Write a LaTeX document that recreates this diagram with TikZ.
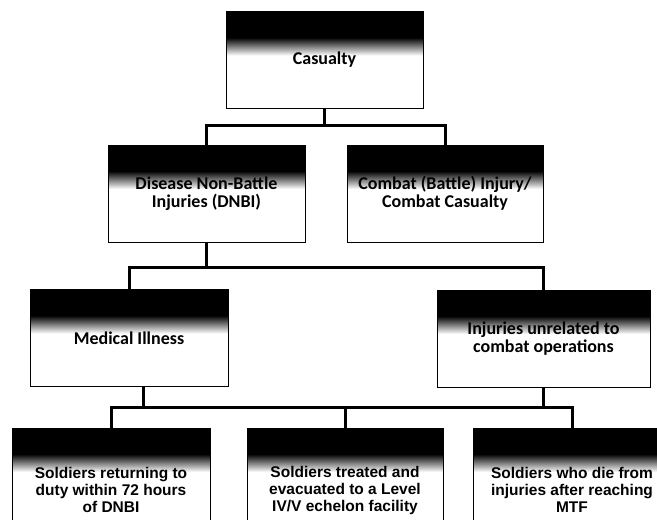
\documentclass[tikz,border=0pt]{standalone}
\usepackage{fontspec}
\setmainfont{Carlito}
\newfontfamily\arialfont{Liberation Sans}

\tikzset{
  casbox/.style={draw, line width=.8pt, minimum width=197pt, minimum height=97pt,
    inner sep=0pt, align=center, font=\bfseries\fontsize{18}{18}\selectfont,
    path picture={
      \fill[black] (path picture bounding box.north west) rectangle ([yshift=-26pt]path picture bounding box.north east);
      \shade[top color=black, bottom color=white] ([yshift=-26pt]path picture bounding box.north west) rectangle ([yshift=-44pt]path picture bounding box.north east);
    }},
  solbox/.style={casbox, minimum height=124pt, font=\arialfont\bfseries\fontsize{15.5}{17}\selectfont},
  link/.style={line width=3pt}
}

\begin{document}
\begin{tikzpicture}[x=1pt,y=-1pt]
\useasboundingbox (0,0) rectangle (657,520);
\clip (0,0) rectangle (657,520);

\node[casbox] (cas) at (324.5,60) {Casualty};
\node[casbox] (dnbi) at (206.5,193.5) {Disease Non-Battle\\Injuries (DNBI)};
\node[casbox, minimum width=196pt] (cbt) at (445,193.5) {Combat (Battle) Injury/\\Combat Casualty};
\node[casbox, minimum width=198pt] (med) at (129,338) {Medical Illness};
\node[casbox, minimum width=213pt] (inj) at (543.5,338.5) {Injuries unrelated to\\combat operations};
\node[solbox, minimum width=198pt] (sol1) at (111,490) {Soldiers returning to\\duty within 72 hours\\of DNBI};
\node[solbox, minimum width=196pt] (sol2) at (345,490) {Soldiers treated and\\evacuated to a Level\\IV/V echelon facility};
\node[solbox, minimum width=198pt] (sol3) at (572,490) {Soldiers who die from\\injuries after reaching\\MTF};

%\draw[help lines] (0,0) grid[step=50] (657,520);
\draw[link] (cas.south) -- ++(0,17) coordinate (cj);
\draw[link] (dnbi.north) |- (cj) -| (cbt.north);

\draw[link] (dnbi.south) -- ++(0,25) coordinate (dj);
\draw[link] (med.north) |- (dj) -| (inj.north);

\coordinate (mo) at ([xshift=14pt]med.south);
\draw[link] (mo) -- ++(0,21) coordinate (mj);
\draw[link] (inj.south) |- (mj);
\draw[link] (sol1.north) |- (mj) -| (sol3.north);
\draw[link] (sol2.north) -- (sol2.north |- mj);
\end{tikzpicture}
\end{document}
